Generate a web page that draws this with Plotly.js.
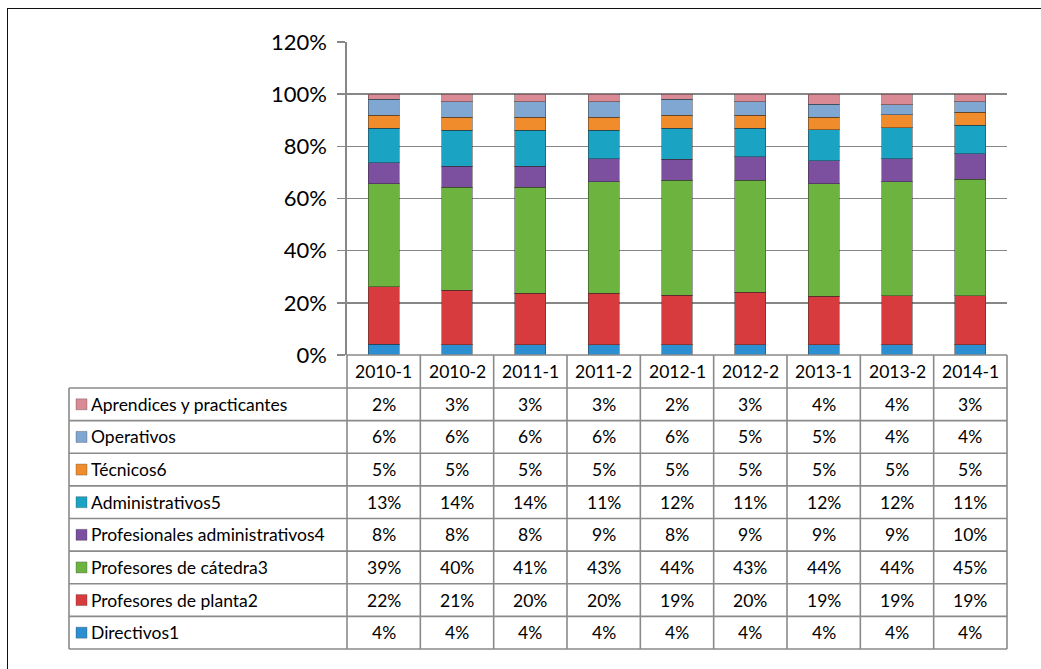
<!DOCTYPE html>
<html>
<head>
<meta charset="utf-8">
<script src="https://cdn.plot.ly/plotly-3.0.1.min.js"></script>
<style>
html,body{margin:0;padding:0;background:#fff;overflow:hidden;}
#wrap{position:relative;width:1041px;height:669px;}
#chart{position:absolute;left:0;top:0;width:1041px;height:669px;}
#frame{position:absolute;left:7px;top:8px;width:1100px;height:700px;border-left:1.5px solid #111;border-top:1.5px solid #111;pointer-events:none;}
</style>
</head>
<body>
<div id="wrap"><div id="chart"></div><div id="frame"></div></div>
<script>
const periods = ['2010-1','2010-2','2011-1','2011-2','2012-1','2012-2','2013-1','2013-2','2014-1'];
const directivos = [4,4,4,4,4,4,4,4,4];
const profesoresPlanta = [22,21,20,20,19,20,19,19,19];
const profesoresCatedra = [39,40,41,43,44,43,44,44,45];
const profesionalesAdmin = [8,8,8,9,8,9,9,9,10];
const administrativos = [13,14,14,11,12,11,12,12,11];
const tecnicos = [5,5,5,5,5,5,5,5,5];
const operativos = [6,6,6,6,6,5,5,4,4];
const aprendices = [2,3,3,3,2,3,4,4,3];
const seriesNames = ['Directivos1','Profesores de planta2','Profesores de cátedra3','Profesionales administrativos4','Administrativos5','Técnicos6','Operativos','Aprendices y practicantes'];
const seriesValues = [directivos, profesoresPlanta, profesoresCatedra, profesionalesAdmin, administrativos, tecnicos, operativos, aprendices];
const seriesColors = ['#2b8fd1','#d83b3d','#6db33f','#7c4f9f','#1aa3c3','#f08c2b','#7fa7d1','#d98a95'];

const FONT = 'Lato, "Open Sans", sans-serif';
const W = 1041, H = 669;
const L = 347, R = 1007, T = 42, B = 355;
const px2x = p => (p - L) / (R - L);
const py2y = p => (B - p) / (B - T);
const gridCol = '#878787';
const TABLE_FONT = 17.5;

const traces = seriesNames.map((n, i) => ({
  type: 'bar', name: n, x: periods, y: seriesValues[i],
  marker: {color: seriesColors[i], line: {color: 'rgba(40,40,40,0.45)', width: 1}},
  width: 0.42, hoverinfo: 'name+y'
}));

const shapes = [];
const annotations = [];

// table geometry
const tableLeft = 69, headerTop = B, headerBottom = 388, rowH = (649 - 388) / 8;
const nCols = periods.length;
const colW = (R - L) / nCols;
const tableBottom = headerBottom + rowH * 8;
const lineStyle = {color: '#8a8a8a', width: 1.6};
for (let c = 0; c <= nCols; c++) {
  const xp = L + c * colW;
  shapes.push({type:'line', xref:'paper', yref:'paper', x0:px2x(xp), x1:px2x(xp), y0:py2y(headerTop), y1:py2y(tableBottom), line:lineStyle});
}
shapes.push({type:'line', xref:'paper', yref:'paper', x0:px2x(tableLeft), x1:px2x(tableLeft), y0:py2y(headerBottom), y1:py2y(tableBottom), line:lineStyle});
shapes.push({type:'line', xref:'paper', yref:'paper', x0:px2x(L), x1:px2x(R), y0:py2y(headerTop), y1:py2y(headerTop), line:lineStyle});
for (let r = 0; r <= 8; r++) {
  const yp = headerBottom + r * rowH;
  shapes.push({type:'line', xref:'paper', yref:'paper', x0:px2x(tableLeft), x1:px2x(R), y0:py2y(yp), y1:py2y(yp), line:lineStyle});
}
periods.forEach((p, c) => {
  annotations.push({xref:'paper', yref:'paper', x:px2x(L + (c + 0.5) * colW), y:py2y((headerTop + headerBottom) / 2), text:p, showarrow:false, font:{family:FONT, size:TABLE_FONT, color:'#000'}, xanchor:'center', yanchor:'middle'});
});
for (let r = 0; r < 8; r++) {
  const s = 7 - r;
  const yc = headerBottom + (r + 0.5) * rowH;
  shapes.push({type:'rect', xref:'paper', yref:'paper', x0:px2x(76), x1:px2x(87), y0:py2y(yc - 5.5), y1:py2y(yc + 5.5), fillcolor:seriesColors[s], line:{color:'rgba(60,60,60,0.4)', width:0.8}});
  annotations.push({xref:'paper', yref:'paper', x:px2x(89), y:py2y(yc), text:seriesNames[s], showarrow:false, font:{family:FONT, size:TABLE_FONT, color:'#000'}, xanchor:'left', yanchor:'middle'});
  seriesValues[s].forEach((v, c) => {
    annotations.push({xref:'paper', yref:'paper', x:px2x(L + (c + 0.5) * colW), y:py2y(yc), text:v + '%', showarrow:false, font:{family:FONT, size:TABLE_FONT, color:'#000'}, xanchor:'center', yanchor:'middle'});
  });
}

const layout = {
  width: W, height: H,
  margin: {l: L, r: W - R, t: T, b: H - B, pad: 0},
  paper_bgcolor: 'rgba(0,0,0,0)', plot_bgcolor: 'rgba(0,0,0,0)',
  barmode: 'stack', barnorm: 'percent',
  showlegend: false,
  font: {family: FONT, color: '#000'},
  xaxis: {type: 'category', showticklabels: false, showgrid: false, zeroline: false, showline: false, ticks: '', range: [-0.5, 8.5], fixedrange: true},
  yaxis: {range: [0, 120], dtick: 20, ticksuffix: '%', showgrid: true, gridcolor: gridCol, gridwidth: 1.6,
          showline: true, linecolor: gridCol, linewidth: 1.6, ticks: 'outside', ticklen: 8, tickcolor: gridCol, tickwidth: 1.6,
          zeroline: false, tickfont: {family: FONT, size: 22, color: '#000'}, ticklabelstandoff: 6, fixedrange: true},
  shapes: shapes,
  annotations: annotations
};

Plotly.newPlot('chart', traces, layout, {displayModeBar: false, staticPlot: true});
</script>
</body>
</html>
